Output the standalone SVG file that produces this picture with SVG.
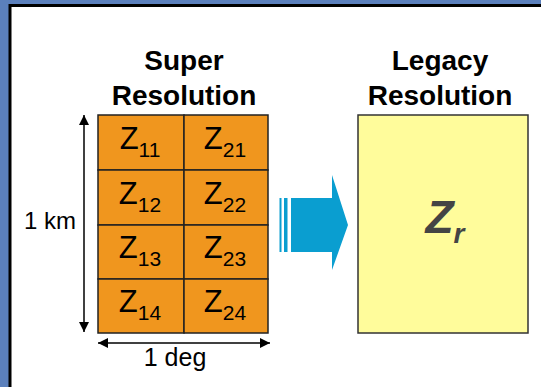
<svg xmlns="http://www.w3.org/2000/svg" width="541" height="387" viewBox="0 0 541 387">
<style>
.t{font-family:"Liberation Sans",Arial,sans-serif;fill:#000}
.h{font-size:28px;font-weight:bold;text-anchor:middle}
.cell{fill:#F0961E;stroke:#222;stroke-width:1.5}
.z{font-size:31px;text-anchor:middle}
.sub{font-size:21px}
.dim{stroke:#000;stroke-width:1.5;fill:none}
</style>
<defs>
<marker id="ah" viewBox="0 0 10 10" refX="10" refY="5" markerWidth="10" markerHeight="10" markerUnits="userSpaceOnUse" orient="auto-start-reverse">
<path d="M0,0 L10,5 L0,10 Z" fill="#000"/>
</marker>
</defs>
<rect x="0" y="0" width="541" height="387" fill="#5B80BC"/>
<rect x="10" y="5" width="531" height="382" fill="#fff"/>
<path d="M10,387 V5.5 H541" fill="none" stroke="#000" stroke-width="3"/>
<text class="t h" x="184" y="70">Super</text>
<text class="t h" x="184" y="105">Resolution</text>
<text class="t h" x="440" y="70">Legacy</text>
<text class="t h" x="440" y="105">Resolution</text>
<g id="grid">
<rect class="cell" x="98" y="115" width="86" height="55"/>
<rect class="cell" x="184" y="115" width="84" height="55"/>
<rect class="cell" x="98" y="170" width="86" height="55"/>
<rect class="cell" x="184" y="170" width="84" height="55"/>
<rect class="cell" x="98" y="225" width="86" height="54"/>
<rect class="cell" x="184" y="225" width="84" height="54"/>
<rect class="cell" x="98" y="279" width="86" height="54"/>
<rect class="cell" x="184" y="279" width="84" height="54"/>
<text class="t z" x="140" y="149">Z<tspan class="sub" dy="8">11</tspan></text>
<text class="t z" x="225" y="149">Z<tspan class="sub" dy="8">21</tspan></text>
<text class="t z" x="140" y="204">Z<tspan class="sub" dy="8">12</tspan></text>
<text class="t z" x="225" y="204">Z<tspan class="sub" dy="8">22</tspan></text>
<text class="t z" x="140" y="258">Z<tspan class="sub" dy="8">13</tspan></text>
<text class="t z" x="225" y="258">Z<tspan class="sub" dy="8">23</tspan></text>
<text class="t z" x="140" y="312">Z<tspan class="sub" dy="8">14</tspan></text>
<text class="t z" x="225" y="312">Z<tspan class="sub" dy="8">24</tspan></text>
</g>
<g id="legacy">
<rect x="358" y="115" width="170" height="218" fill="#FFFC9B" stroke="#333" stroke-width="1.5"/>
<text class="t" x="445" y="233" text-anchor="middle" font-size="46" font-weight="bold" font-style="italic" style="fill:#444">Z<tspan font-size="28" dy="10">r</tspan></text>
</g>
<g id="connectors">
<line class="dim" x1="84" y1="332" x2="84" y2="115" marker-end="url(#ah)" marker-start="url(#ah)"/>
<line class="dim" x1="98" y1="343" x2="270" y2="343" marker-end="url(#ah)" marker-start="url(#ah)"/>
<g fill="#0A9ED0">
<rect x="279.5" y="198" width="2" height="54"/>
<rect x="284" y="198" width="3.5" height="54"/>
<path d="M291,198 H332 V175 L348,225 L332,270 V252 H291 Z"/>
</g>
</g>
<text class="t" x="50" y="229" text-anchor="middle" font-size="24">1 km</text>
<text class="t" x="175" y="366" text-anchor="middle" font-size="25">1 deg</text>
</svg>
